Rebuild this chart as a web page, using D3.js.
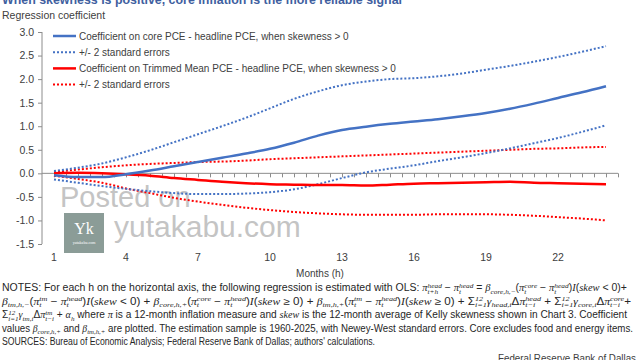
<!DOCTYPE html>
<html><head><meta charset="utf-8">
<script src="https://cdn.jsdelivr.net/npm/d3@7"></script>
<style>
html,body{margin:0;padding:0;background:#fff;}
svg{display:block;font-family:"Liberation Sans",Arial,sans-serif;}
</style></head>
<body>
<svg id="c" width="640" height="360"></svg>
<script>
// ---- data ----
const months = d3.range(1, 25);
const coreCoef  = [-0.04,-0.08,-0.08,-0.02,0.06,0.15,0.24,0.33,0.42,0.52,0.65,0.80,0.92,0.99,1.05,1.10,1.15,1.21,1.28,1.37,1.48,1.60,1.72,1.85];
const coreUpper = [0.05,0.12,0.21,0.34,0.49,0.66,0.83,1.00,1.18,1.38,1.58,1.74,1.87,1.95,2.00,2.02,2.06,2.12,2.20,2.28,2.37,2.47,2.58,2.70];
const coreLower = [-0.13,-0.2,-0.27,-0.33,-0.38,-0.42,-0.44,-0.44,-0.43,-0.40,-0.34,-0.23,-0.10,0.02,0.10,0.17,0.26,0.34,0.43,0.53,0.64,0.75,0.88,1.02];
const tmCoef    = [0.0,0.01,0.0,-0.02,-0.05,-0.10,-0.14,-0.18,-0.21,-0.23,-0.24,-0.25,-0.25,-0.26,-0.24,-0.22,-0.21,-0.20,-0.19,-0.18,-0.20,-0.21,-0.22,-0.23];
const tmUpper   = [0.03,0.08,0.13,0.17,0.20,0.22,0.24,0.25,0.27,0.30,0.32,0.34,0.36,0.38,0.40,0.42,0.44,0.46,0.48,0.50,0.52,0.53,0.55,0.56];
const tmLower   = [-0.05,-0.12,-0.20,-0.32,-0.42,-0.52,-0.60,-0.67,-0.73,-0.78,-0.82,-0.85,-0.87,-0.88,-0.88,-0.88,-0.87,-0.87,-0.87,-0.88,-0.90,-0.93,-0.96,-1.00];
const yTicks = [3.0,2.5,2.0,1.5,1.0,0.5,0.0,-0.5,-1.0,-1.5];
const xLabels = [1,4,7,10,13,16,19,22];
const legendLabels = [
  "Coefficient on core PCE - headline PCE, when skewness > 0",
  "+/- 2 standard errors",
  "Coefficient on Trimmed Mean PCE - headline PCE, when skewness > 0",
  "+/- 2 standard errors"
];
const title = "When skewness is positive, core inflation is the more reliable signal";
const yTitle = "Regression coefficient";
const xTitle = "Months (h)";
const notes = [
  "NOTES: For each  h on the horizontal axis, the following regression is estimated with OLS: *π*[head|t+h] − *π*[head|t] = *β*_{core,h,−}(*π*[core|t] − *π*[head|t])*I*(*skew* < 0)+",
  "*β*_{tm,h,−}(*π*[tm|t] − *π*[head|t])*I*(*skew* < 0) + *β*_{core,h,+}(*π*[core|t] − *π*[head|t])*I*(*skew* ≥ 0) + *β*_{tm,h,+}(*π*[tm|t] − *π*[head|t])*I*(*skew* ≥ 0) + Σ[12|i=1]*γ*_{head,i}Δ*π*[head|t−i] + Σ[12|i=1]*γ*_{core,i}Δ*π*[core|t−i]+",
  "Σ[12|i=1]*γ*_{tm,i}Δ*π*[tm|t−i] + *α*_{h} where *π* is a 12-month inflation measure and *skew* is the 12-month average of Kelly skewness shown in Chart 3. Coefficient",
  "values  *β*_{core,h,+} and *β*_{tm,h,+} are plotted. The estimation sample is 1960-2025, with Newey-West standard errors. Core excludes food and energy items.",
  "SOURCES: Bureau of Economic Analysis; Federal Reserve Bank of Dallas; authors' calculations."
];
const noteWidths = [625, 629, 625, 631, 373];
const credit = "Federal Reserve Bank of Dallas";

// ---- chart ----
const svg = d3.select("#c");
const BLUE = "#4472c4", RED = "#ff0000", AX = "#8c8c8c", TXT = "#404040";
const x = d3.scaleLinear().domain([1, 24]).range([54, 606]);
const y = d3.scaleLinear().domain([-1.5, 3.0]).range([244, 32]);

// title (cut off at the top)
svg.append("text").attr("x", 2).attr("y", 4).attr("font-size", 12.5).attr("font-weight", "bold")
  .attr("fill", "#3f5f9f").attr("textLength", 400).attr("lengthAdjust", "spacingAndGlyphs").text(title);
svg.append("text").attr("x", 2).attr("y", 18.5).attr("font-size", 10.5).attr("fill", TXT).text(yTitle);

// y axis
const yAxis = svg.append("g").attr("transform", "translate(42,0)")
  .call(d3.axisLeft(y).tickValues(yTicks).tickFormat(d3.format(".1f")).tickSize(4).tickPadding(4));
yAxis.select(".domain").attr("stroke", AX).attr("d", `M0,${y(3.0)}V${y(-1.5)}`);
yAxis.selectAll(".tick line").attr("stroke", AX);
yAxis.selectAll(".tick text").attr("fill", TXT).attr("font-size", 10.5)
  .attr("font-family", "Liberation Sans, Arial, sans-serif").text(d => d < 0 ? "-" + d3.format(".1f")(-d) : d3.format(".1f")(d));

// x axis at zero
const xTickVals = d3.range(1, 24.51, 0.5);
const xAxis = svg.append("g").attr("transform", `translate(0,${y(0)})`)
  .call(d3.axisBottom(x).tickValues(xTickVals).tickFormat("").tickSize(4).tickSizeOuter(0));
xAxis.select(".domain").attr("stroke", AX).attr("d", `M42,0H${x(24.5)}`);
xAxis.selectAll(".tick line").attr("stroke", AX);

// x labels at the bottom
svg.append("g").selectAll("text").data(xLabels).join("text")
  .attr("x", d => x(d)).attr("y", 261).attr("text-anchor", "middle")
  .attr("font-size", 10.5).attr("fill", TXT).text(d => d);
svg.append("text").attr("x", 320).attr("y", 277).attr("text-anchor", "middle")
  .attr("font-size", 10).attr("fill", TXT).text(xTitle);

// watermark
svg.append("text").attr("x", 60).attr("y", 207).attr("font-size", 29).attr("fill", "#c4c4c4").text("Posted on");
svg.append("rect").attr("x", 64).attr("y", 213).attr("width", 40).attr("height", 40).attr("fill", "#8b9c97");
svg.append("text").attr("x", 84).attr("y", 234).attr("text-anchor", "middle").attr("font-size", 16)
  .attr("font-family", "Liberation Serif, serif").attr("fill", "#fff").text("Yk");
svg.append("text").attr("x", 84).attr("y", 244).attr("text-anchor", "middle").attr("font-size", 4)
  .attr("font-family", "Liberation Serif, serif").attr("fill", "#fff").text("yutakabu.com");
svg.append("text").attr("x", 114).attr("y", 237).attr("font-size", 30).attr("fill", "#c4c4c4").text("yutakabu.com");

// series
const line = d3.line().x((d, i) => x(months[i])).y(d => y(d)).curve(d3.curveMonotoneX);
const series = [
  {v: tmLower, c: RED, dash: "2,2", w: 2},
  {v: tmUpper, c: RED, dash: "2,2", w: 2},
  {v: coreLower, c: BLUE, dash: "2,2", w: 2},
  {v: coreUpper, c: BLUE, dash: "2,2", w: 2},
  {v: tmCoef, c: RED, dash: null, w: 2.5},
  {v: coreCoef, c: BLUE, dash: null, w: 2.5}
];
svg.append("g").selectAll("path").data(series).join("path")
  .attr("d", d => line(d.v)).attr("fill", "none").attr("stroke", d => d.c)
  .attr("stroke-width", d => d.w).attr("stroke-dasharray", d => d.dash);

// legend
const legendStyle = [{c: BLUE, dash: null}, {c: BLUE, dash: "2,2"}, {c: RED, dash: null}, {c: RED, dash: "2,2"}];
const lg = svg.append("g");
legendLabels.forEach((t, i) => {
  const yy = 36 + i * 16.2;
  lg.append("line").attr("x1", 53).attr("x2", 76).attr("y1", yy).attr("y2", yy)
    .attr("stroke", legendStyle[i].c).attr("stroke-width", legendStyle[i].dash ? 2 : 2.5)
    .attr("stroke-dasharray", legendStyle[i].dash);
  lg.append("text").attr("x", 79).attr("y", yy + 3.6).attr("font-size", 10).attr("fill", TXT).text(t);
});

// notes with inline math (tspans carry absolute y, so shifts never accumulate)
function rich(g, x0, y0, str, width) {
  const t = g.append("text").attr("x", x0).attr("y", y0).attr("font-size", 10).attr("fill", "#262626");
  const re = /(\[[^\]|]*\|[^\]]*\])|(_\{[^}]*\})|(\^\{[^}]*\})|(\*[^*]*\*)/g;
  let last = 0, m, pendingDx = 0;
  const add = (txt, opt) => {
    const s = t.append("tspan").text(txt).attr("y", y0 + (opt.shift || 0));
    if (opt.small) s.attr("font-size", 7);
    if (opt.it) s.attr("font-style", "italic").attr("font-family", "Liberation Serif, serif");
    const dx = (opt.dx || 0) + pendingDx;
    pendingDx = 0;
    if (dx) s.attr("dx", dx);
    return s;
  };
  while ((m = re.exec(str)) !== null) {
    if (m.index > last) add(str.slice(last, m.index), {});
    const tok = m[0];
    if (tok[0] === "[") {
      const [sup, sub] = tok.slice(1, -1).split("|");
      const s1 = add(sup, {shift: -3.5, small: true, it: true});
      const w1 = s1.node().getComputedTextLength();
      const s2 = add(sub, {shift: 2.5, small: true, it: true, dx: -w1});
      const w2 = s2.node().getComputedTextLength();
      if (w1 > w2) pendingDx = w1 - w2;
    } else if (tok[0] === "_") {
      add(tok.slice(2, -1), {shift: 2.5, small: true, it: true});
    } else if (tok[0] === "^") {
      add(tok.slice(2, -1), {shift: -3.5, small: true, it: true});
    } else {
      add(tok.slice(1, -1), {it: true});
    }
    last = m.index + tok.length;
  }
  if (last < str.length) add(str.slice(last), {});
  if (width) t.attr("textLength", width).attr("lengthAdjust", "spacingAndGlyphs");
}
const ng = svg.append("g");
notes.forEach((n, i) => rich(ng, 2, 291 + i * 13.6, n, noteWidths[i]));
svg.append("text").attr("x", 636).attr("y", 362).attr("text-anchor", "end").attr("font-size", 10)
  .attr("fill", TXT).attr("textLength", 138).attr("lengthAdjust", "spacingAndGlyphs").text(credit);
</script>
</body></html>
